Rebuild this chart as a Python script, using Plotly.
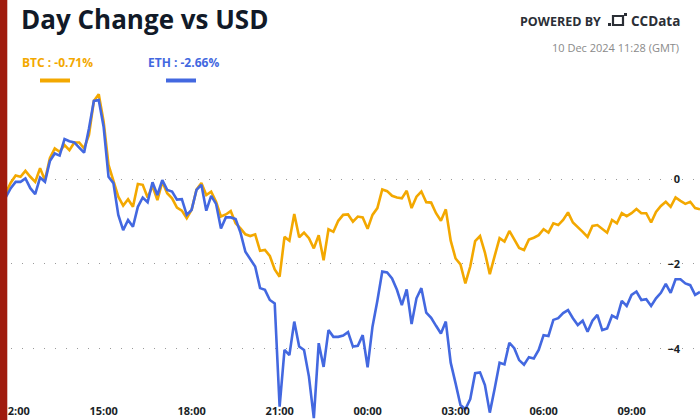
import pandas as pd
import plotly.graph_objects as go

# ---- data (percent change vs USD, 10-minute samples) ----
start_time = "2024-12-09 11:30"
btc_values = [
    -0.42, -0.32, -0.08, 0.09, 0.06, 0.20, 0.06, -0.06, 0.26, -0.02,
    0.50, 0.73, 0.65, 0.81, 0.69, 0.87, 0.87, 0.73, 1.05, 1.85,
    2.01, 1.36, 0.34, -0.06, -0.41, -0.62, -0.47, -0.65, -0.11, -0.13,
    -0.43, -0.16, -0.49, -0.06, -0.33, -0.45, -0.67, -0.74, -0.92, -0.72,
    -0.24, -0.09, -0.37, -0.29, -0.53, -0.88, -0.83, -0.75, -1.04, -1.16,
    -1.30, -1.34, -1.30, -1.69, -1.67, -1.81, -2.13, -2.30, -1.36, -1.45,
    -0.82, -1.37, -1.26, -1.39, -1.63, -1.32, -1.91, -1.18, -1.24, -0.98,
    -0.84, -0.83, -1.00, -0.88, -0.90, -1.17, -0.84, -0.68, -0.24, -0.28,
    -0.39, -0.43, -0.45, -0.27, -0.68, -0.41, -0.29, -0.54, -0.55, -0.80,
    -0.98, -0.71, -1.45, -1.87, -2.01, -2.46, -2.06, -1.46, -1.34, -1.73,
    -2.24, -1.81, -1.39, -1.47, -1.22, -1.42, -1.62, -1.67, -1.42, -1.38,
    -1.32, -1.18, -1.26, -1.04, -1.08, -0.96, -0.78, -1.02, -1.12, -1.24,
    -1.36, -1.10, -1.08, -1.18, -1.26, -0.96, -1.04, -0.80, -0.87, -0.80,
    -0.70, -0.80, -0.80, -1.02, -0.77, -0.63, -0.53, -0.65, -0.43, -0.51,
    -0.58, -0.53, -0.68, -0.71,
]
eth_values = [
    -0.49, -0.42, -0.21, -0.06, -0.06, 0.02, -0.21, -0.35, 0.04, -0.06,
    0.43, 0.61, 0.56, 0.95, 0.90, 0.87, 0.75, 0.63, 1.20, 1.85,
    1.87, 1.24, 0.06, -0.09, -0.84, -1.20, -0.96, -1.12, -0.65, -0.43,
    -0.54, -0.07, -0.37, -0.02, -0.25, -0.29, -0.48, -0.47, -0.84, -0.72,
    -0.25, -0.13, -0.74, -0.39, -0.58, -1.16, -0.90, -0.90, -0.94, -1.26,
    -1.71, -1.87, -2.06, -2.57, -2.61, -2.85, -2.93, -5.37, -4.03, -4.15,
    -3.36, -3.95, -4.03, -4.66, -5.64, -3.87, -4.43, -3.56, -3.72, -3.72,
    -3.69, -3.61, -3.95, -3.93, -3.68, -4.44, -3.48, -2.87, -2.18, -2.20,
    -2.34, -2.61, -2.97, -2.60, -3.42, -2.81, -2.57, -3.15, -3.27, -3.46,
    -3.64, -3.36, -4.33, -4.82, -5.33, -5.43, -5.19, -4.58, -4.56, -4.86,
    -5.51, -4.94, -4.33, -4.37, -3.86, -3.99, -4.27, -4.38, -4.20, -4.23,
    -4.03, -3.68, -3.70, -3.32, -3.28, -3.16, -3.09, -3.28, -3.44, -3.34,
    -3.60, -3.34, -3.20, -3.56, -3.52, -3.22, -3.28, -2.87, -2.99, -2.73,
    -2.65, -2.85, -2.83, -2.99, -2.81, -2.68, -2.47, -2.68, -2.36, -2.36,
    -2.46, -2.50, -2.73, -2.66,
]
times = pd.date_range(start_time, periods=len(btc_values), freq="10min")

y_ticks = [-4, -2, 0]
title_text = "Day Change vs USD"
btc_label = "BTC : -0.71%"
eth_label = "ETH : -2.66%"
timestamp_text = "10 Dec 2024 11:28 (GMT)"

# ---- styles ----
BTC_COLOR = "#F3A800"
ETH_COLOR = "#4368E0"
W, H = 700, 420
FONT = "Open Sans"


def px(x):
    return x / W


def py(y):
    return 1 - y / H


fig = go.Figure()
fig.add_trace(go.Scatter(x=times, y=btc_values, mode="lines",
                         line=dict(color=BTC_COLOR, width=2.6), hoverinfo="skip"))
fig.add_trace(go.Scatter(x=times, y=eth_values, mode="lines",
                         line=dict(color=ETH_COLOR, width=2.6), hoverinfo="skip"))

shapes = [
    # left red bar
    dict(type="rect", xref="paper", yref="paper", x0=0, x1=px(7.3), y0=0, y1=1,
         fillcolor="#A01B0E", line=dict(width=0), layer="above"),
    # legend swatches
    dict(type="line", xref="paper", yref="paper", x0=px(40), x1=px(70),
         y0=py(80.5), y1=py(80.5), line=dict(color=BTC_COLOR, width=4), layer="above"),
    dict(type="line", xref="paper", yref="paper", x0=px(166), x1=px(196),
         y0=py(80.5), y1=py(80.5), line=dict(color=ETH_COLOR, width=4), layer="above"),
    # tiny logo
    dict(type="rect", xref="paper", yref="paper", x0=px(608), x1=px(611),
         y0=py(26), y1=py(23), fillcolor="#2b2f36", line=dict(width=0), layer="above"),
    dict(type="rect", xref="paper", yref="paper", x0=px(613), x1=px(623),
         y0=py(25), y1=py(16), fillcolor="rgba(0,0,0,0)",
         line=dict(color="#2b2f36", width=2.2), layer="above"),
    dict(type="rect", xref="paper", yref="paper", x0=px(624), x1=px(627),
         y0=py(16), y1=py(13), fillcolor="#2b2f36", line=dict(width=0), layer="above"),
]

annotations = [
    dict(text=f"<b>{title_text}</b>", xref="paper", yref="paper", x=px(19), y=py(19),
         xanchor="left", yanchor="middle", showarrow=False,
         font=dict(family=FONT, size=26, color="#111a28")),
    dict(text=f"<b>{btc_label}</b>", xref="paper", yref="paper", x=px(20), y=py(62.5),
         xanchor="left", yanchor="middle", showarrow=False,
         font=dict(family=FONT, size=12, color=BTC_COLOR)),
    dict(text=f"<b>{eth_label}</b>", xref="paper", yref="paper", x=px(146), y=py(62.5),
         xanchor="left", yanchor="middle", showarrow=False,
         font=dict(family=FONT, size=12, color=ETH_COLOR)),
    dict(text="<b>POWERED BY</b>", xref="paper", yref="paper", x=px(603), y=py(21),
         xanchor="right", yanchor="middle", showarrow=False,
         font=dict(family=FONT, size=12.5, color="#2b2f36")),
    dict(text="<b>CCData</b>", xref="paper", yref="paper", x=px(629), y=py(21),
         xanchor="left", yanchor="middle", showarrow=False,
         font=dict(family=FONT, size=13.5, color="#2b2f36")),
    dict(text=timestamp_text, xref="paper", yref="paper", x=px(681), y=py(47),
         xanchor="right", yanchor="middle", showarrow=False,
         font=dict(family=FONT, size=11, color="#8a8a8a")),
]

fig.update_layout(
    width=W, height=H,
    margin=dict(l=0, r=0, t=0, b=0),
    paper_bgcolor="white", plot_bgcolor="white",
    showlegend=False,
    shapes=shapes,
    annotations=annotations,
    xaxis=dict(
        range=["2024-12-09 11:28", "2024-12-10 11:20"],
        type="date",
        tickformat="%H:%M",
        dtick=3 * 3600 * 1000,
        tick0="2024-12-09 00:00",
        ticklabelposition="inside",
        ticklabeloverflow="allow",
        ticks="",
        showgrid=False, zeroline=False, showline=False,
        tickfont=dict(family=FONT, size=11, color="#1b1f27", weight="bold"),
    ),
    yaxis=dict(
        range=[-5.684, 4.234],
        side="right",
        tickvals=y_ticks,
        ticklabelposition="inside",
        ticklabeloverflow="allow",
        ticklabelstandoff=17,
        ticks="",
        showgrid=True, gridcolor="#9a9a9a", gridwidth=1.3, griddash="1.3px,9.7px",
        zeroline=False, showline=False,
        tickfont=dict(family=FONT, size=11, color="#1b1f27", weight="bold"),
    ),
)

fig.write_html("out.html", config={"displayModeBar": False})
